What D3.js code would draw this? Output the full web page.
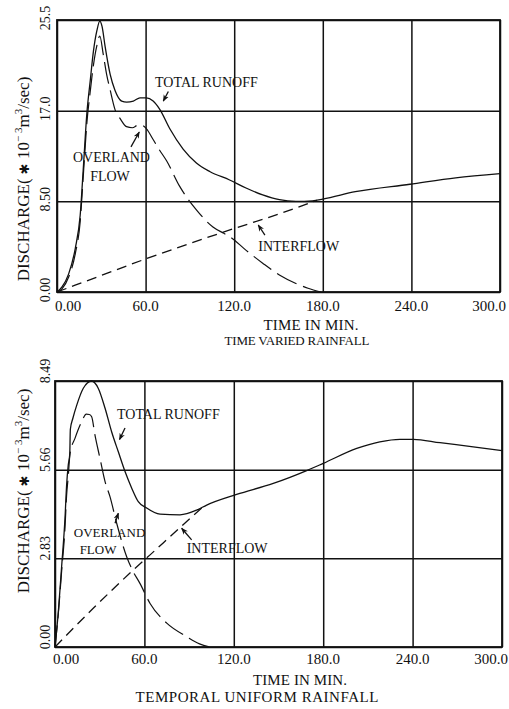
<html>
<head>
  <title>Discharge hydrographs</title>
  <meta charset="utf-8" />
  <script src="https://cdnjs.cloudflare.com/ajax/libs/d3/7.8.5/d3.min.js"></script>
  <style>
    body { margin: 0; background: #fff; }
    svg text { font-family: "Liberation Serif", "DejaVu Serif", serif; fill: #111; }
  </style>
</head>
<body>
  <svg width="509" height="709"></svg>
<script>

// shared x axis (minutes)
var xTicks      = [0, 60, 120, 180, 240, 300];
var xTickLabels = ["0.00", "60.0", "120.0", "180.0", "240.0", "300.0"];

// top panel: time varied rainfall
var tvYTicks  = [0, 8.5, 17, 25.5];
var tvYLabels = ["0.00", "8.50", "17.0", "25.5"];
var tvTotalT = [0, 3.4, 7.9, 12.4, 15.7, 18, 20.2, 22.5, 24.7, 27, 29, 30.5, 32.6, 36, 39.3, 43.8, 47.2, 51.7, 56.2, 60.5, 65.1, 69.7, 76.4, 85.4, 94.4, 103.4, 116.9, 128, 139.3, 150.6, 161.8, 173, 180, 202, 239, 270, 300];
var tvTotalQ = [0, 0.47, 1.7, 4.1, 7.2, 12, 16.7, 19.8, 22.6, 24.5, 25.4, 24.9, 23, 20.4, 18.9, 17.9, 17.8, 17.9, 18.2, 18.2, 17.9, 17.1, 15.3, 13.4, 12.1, 11.3, 10.5, 9.75, 9.1, 8.65, 8.5, 8.55, 8.7, 9.4, 10.1, 10.7, 11.1];
var tvOverT  = [0, 3.4, 7.9, 12.4, 15.7, 18, 20.2, 22.5, 24.7, 27, 29, 31.3, 33.6, 35.9, 39.3, 43, 47.1, 51, 55, 58, 60.6, 65.1, 69, 74.2, 83.1, 94.4, 105.6, 113, 116.9, 128.1, 139.3, 150.6, 161.8, 170, 178.7];
var tvOverQ  = [0, 0.3, 1.4, 3.6, 6.6, 11.3, 15.8, 18.8, 21.3, 23.1, 24.0, 22.3, 20.4, 19.0, 17.1, 16.2, 15.5, 15.4, 15.65, 15.6, 15.3, 14.3, 13.4, 12.3, 9.9, 7.7, 6.1, 5.5, 5.2, 3.9, 2.7, 1.6, 0.8, 0.35, 0];
var tvInterT = [0, 30, 60, 90, 120, 150, 176];
var tvInterQ = [0, 1.55, 3.1, 4.55, 5.95, 7.3, 8.6];

// bottom panel: temporal uniform rainfall
var tuYTicks  = [0, 2.83, 5.66, 8.49];
var tuYLabels = ["0.00", "2.83", "5.66", "8.49"];
var tuTotalT = [0, 2.2, 4.5, 6.7, 7.8, 8.9, 9.9, 10.3, 12, 14.6, 19, 24.6, 29, 33.6, 38, 42.5, 47, 51.5, 55.9, 61, 70.5, 83.9, 95.1, 101.8, 121.9, 146.5, 168.9, 180, 202.5, 218, 231.5, 240.5, 258.4, 280.7, 300];
var tuTotalQ = [0, 1.1, 2.6, 4.1, 5.17, 5.81, 6.15, 6.95, 7.3, 7.72, 8.26, 8.49, 8.26, 7.62, 6.87, 6.23, 5.6, 5.07, 4.64, 4.45, 4.24, 4.22, 4.37, 4.53, 4.87, 5.22, 5.63, 5.86, 6.34, 6.55, 6.63, 6.63, 6.52, 6.39, 6.27];
var tuOverT  = [0, 2.2, 4.5, 6.7, 7.8, 8.9, 10.1, 13.4, 17.9, 21, 23, 24.6, 26.8, 30.2, 33.6, 36.9, 41.4, 48.1, 52, 57, 63.8, 75, 88.4, 97, 104];
var tuOverQ  = [0, 1.05, 2.45, 3.8, 4.85, 5.45, 6.18, 6.66, 7.19, 7.43, 7.42, 7.35, 6.77, 6.02, 5.28, 4.8, 3.95, 2.88, 2.45, 2.03, 1.39, 0.76, 0.33, 0.1, 0];
var tuInterT = [0, 26, 52.6, 63.8, 77.2, 90.6, 100];
var tuInterQ = [0, 1.25, 2.46, 2.94, 3.52, 4.1, 4.5];

var svg = d3.select("svg");

svg.append("defs").append("marker")
    .attr("id", "head")
    .attr("viewBox", "0 0 10 10")
    .attr("refX", 9).attr("refY", 5)
    .attr("markerWidth", 7).attr("markerHeight", 7)
    .attr("markerUnits", "userSpaceOnUse")
    .attr("orient", "auto")
  .append("path")
    .attr("d", "M0,1 L10,5 L0,9 L3,5 z")
    .attr("fill", "#111");

var panels = [
  { x0: 57, x1: 500, y0: 20, y1: 292, qMax: 25.5,
    yTicks: tvYTicks, yLabels: tvYLabels, yLabelShift: -2,
    total: d3.zip(tvTotalT, tvTotalQ), over: d3.zip(tvOverT, tvOverQ), inter: d3.zip(tvInterT, tvInterQ),
    tickY: 19, titleY: 179,
    caption1: {x: 311, y: 330, len: 95, size: 15, text: "TIME IN MIN."},
    caption2: {x: 297, y: 345, len: 145, size: 13, text: "TIME VARIED RAINFALL"},
    labels: [
      {t: 66.4, q: 19.2, anchor: "start", size: 14, text: "TOTAL RUNOFF"},
      {t: 36.9, q: 12.2, anchor: "middle", size: 14, text: "OVERLAND"},
      {t: 35.9, q: 10.4, anchor: "middle", size: 14, text: "FLOW"},
      {t: 136.3, q: 3.84, anchor: "start", size: 14, text: "INTERFLOW"}
    ],
    arrows: [
      [[75.4, 18.8], [72, 17.9]],
      [[50.1, 13.6], [55.7, 15.0]],
      [[140.8, 5.34], [136.3, 6.28]]
    ] },
  { x0: 55, x1: 502, y0: 381, y1: 647, qMax: 8.49,
    yTicks: tuYTicks, yLabels: tuYLabels, yLabelShift: -10,
    total: d3.zip(tuTotalT, tuTotalQ), over: d3.zip(tuOverT, tuOverQ), inter: d3.zip(tuInterT, tuInterQ),
    tickY: 17, titleY: 491,
    caption1: {x: 300, y: 685, len: 94, size: 15, text: "TIME IN MIN."},
    caption2: {x: 257, y: 702, len: 243, size: 15, text: "TEMPORAL UNIFORM RAINFALL"},
    labels: [
      {t: 41.6, q: 7.28, anchor: "start", size: 14, text: "TOTAL RUNOFF"},
      {t: 36.6, q: 3.5, anchor: "middle", size: 13, text: "OVERLAND"},
      {t: 28.9, q: 2.98, anchor: "middle", size: 13, text: "FLOW"},
      {t: 88.4, q: 3.0, anchor: "start", size: 14, text: "INTERFLOW"}
    ],
    arrows: [
      [[47, 6.99], [43.3, 6.62]],
      [[40.3, 3.95], [42.5, 4.27]],
      [[91.7, 3.42], [85, 3.79]]
    ] }
];

panels.forEach(drawPanel);

function drawPanel(p) {
  var x = d3.scaleLinear().domain([0, 300]).range([p.x0, p.x1]);
  var y = d3.scaleLinear().domain([0, p.qMax]).range([p.y1, p.y0]);
  var g = svg.append("g");
  var last = xTicks.length - 1;

  // grid lines
  g.append("g").attr("transform", "translate(0," + p.y1 + ")")
    .call(d3.axisBottom(x).tickValues(xTicks).tickSize(-(p.y1 - p.y0)).tickSizeOuter(0).tickFormat(""))
    .call(a => a.select(".domain").remove())
    .selectAll("line").attr("stroke", "#111").attr("stroke-width", 1.5);
  g.append("g").attr("transform", "translate(" + p.x0 + ",0)")
    .call(d3.axisLeft(y).tickValues(p.yTicks).tickSize(-(p.x1 - p.x0)).tickSizeOuter(0).tickFormat(""))
    .call(a => a.select(".domain").remove())
    .selectAll("line").attr("stroke", "#111").attr("stroke-width", 1.5);

  g.append("rect")
    .attr("x", p.x0).attr("y", p.y0)
    .attr("width", p.x1 - p.x0).attr("height", p.y1 - p.y0)
    .attr("fill", "none").attr("stroke", "#111").attr("stroke-width", 1.8);

  // tick labels
  g.selectAll(".xl").data(xTicks).enter().append("text")
    .attr("x", (d, i) => i == 0 ? x(d) - 2 : i == last ? x(d) + 6 : x(d))
    .attr("y", p.y1 + p.tickY)
    .attr("text-anchor", (d, i) => i == 0 ? "start" : i == last ? "end" : "middle")
    .attr("font-size", 15)
    .text((d, i) => xTickLabels[i]);
  g.selectAll(".yl").data(p.yTicks).enter().append("text")
    .attr("transform", d => "translate(50," + (y(d) + p.yLabelShift) + ") rotate(-90)")
    .attr("text-anchor", "middle")
    .attr("font-size", 14)
    .text((d, i) => p.yLabels[i]);

  // axis title
  var yt = g.append("text")
    .attr("transform", "translate(29," + p.titleY + ") rotate(-90)")
    .attr("text-anchor", "middle")
    .attr("font-size", 17);
  yt.append("tspan").text("DISCHARGE( ");
  yt.append("tspan").style("font-family", "DejaVu Sans").attr("font-size", 13).text("\u2731");
  yt.append("tspan").text(" 10");
  yt.append("tspan").attr("dy", -7).attr("font-size", 11).text("\u2212 3");
  yt.append("tspan").attr("dy", 7).text("m");
  yt.append("tspan").attr("dy", -7).attr("font-size", 11).text("3");
  yt.append("tspan").attr("dy", 7).text("/sec)");

  [p.caption1, p.caption2].forEach(c => {
    g.append("text")
      .attr("x", c.x).attr("y", c.y)
      .attr("text-anchor", "middle")
      .attr("font-size", c.size)
      .attr("textLength", c.len)
      .attr("lengthAdjust", "spacing")
      .text(c.text);
  });

  // curves
  var line = d3.line().x(d => x(d[0])).y(d => y(d[1])).curve(d3.curveMonotoneX);
  g.append("path").datum(p.inter).attr("d", line)
    .attr("fill", "none").attr("stroke", "#111").attr("stroke-width", 1.3)
    .attr("stroke-dasharray", "10,6");
  g.append("path").datum(p.over).attr("d", line)
    .attr("fill", "none").attr("stroke", "#111").attr("stroke-width", 1.2)
    .attr("stroke-dasharray", "22,7");
  g.append("path").datum(p.total).attr("d", line)
    .attr("fill", "none").attr("stroke", "#111").attr("stroke-width", 1.3);

  // annotations
  g.selectAll(".lab").data(p.labels).enter().append("text")
    .attr("x", d => x(d.t)).attr("y", d => y(d.q))
    .attr("text-anchor", d => d.anchor)
    .attr("font-size", d => d.size)
    .text(d => d.text);
  g.selectAll(".arr").data(p.arrows).enter().append("line")
    .attr("x1", d => x(d[0][0])).attr("y1", d => y(d[0][1]))
    .attr("x2", d => x(d[1][0])).attr("y2", d => y(d[1][1]))
    .attr("stroke", "#111").attr("stroke-width", 1.3)
    .attr("marker-end", "url(#head)");
}

</script>
</body>
</html>
